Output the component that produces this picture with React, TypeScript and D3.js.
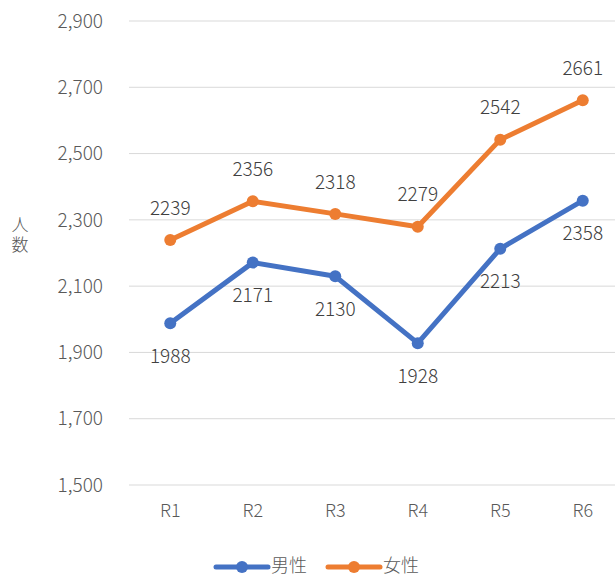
import React, { useEffect, useRef } from 'react';
import * as d3 from 'd3';

const categories = ['R1', 'R2', 'R3', 'R4', 'R5', 'R6'];
const male = [1988, 2171, 2130, 1928, 2213, 2358];
const female = [2239, 2356, 2318, 2279, 2542, 2661];
const yTicks = [1500, 1700, 1900, 2100, 2300, 2500, 2700, 2900];

const FONT = '"Noto Sans CJK JP", "Noto Sans", sans-serif';

const App = () => {
  const svgRef = useRef<SVGSVGElement>(null);

  useEffect(() => {
    const width = 615;
    const height = 576;
    const svg = d3.select(svgRef.current);
    svg.selectAll('*').remove();
    svg.attr('width', width).attr('height', height);

    const x = d3.scaleBand<string>().domain(categories).range([129, 624]);
    const y = d3.scaleLinear().domain([1500, 2900]).range([485, 21]);
    const cx = (d: string) => (x(d) as number) + x.bandwidth() / 2;

    // gridlines
    svg.append('g')
      .selectAll('line')
      .data(yTicks)
      .enter().append('line')
      .attr('x1', 129)
      .attr('x2', width)
      .attr('y1', d => y(d))
      .attr('y2', d => y(d))
      .attr('stroke', '#d9d9d9')
      .attr('stroke-width', 1);

    // y tick labels
    svg.append('g')
      .selectAll('text')
      .data(yTicks)
      .enter().append('text')
      .attr('x', 103)
      .attr('y', d => y(d))
      .attr('dy', '0.35em')
      .attr('text-anchor', 'end')
      .style('font-family', FONT)
      .style('font-size', '19px')
      .style('font-weight', 300)
      .attr('fill', '#595959')
      .text(d => d3.format(',')(d));

    // x labels
    svg.append('g')
      .selectAll('text')
      .data(categories)
      .enter().append('text')
      .attr('x', d => cx(d))
      .attr('y', 511)
      .attr('dy', '0.35em')
      .attr('text-anchor', 'middle')
      .style('font-family', FONT)
      .style('font-size', '18px')
      .style('font-weight', 300)
      .attr('fill', '#595959')
      .text(d => d);

    // y axis title, stacked vertically
    svg.append('text')
      .attr('x', 20)
      .attr('y', 236)
      .attr('text-anchor', 'middle')
      .style('writing-mode', 'vertical-rl')
      .style('letter-spacing', '3px')
      .style('font-family', FONT)
      .style('font-size', '17px')
      .style('font-weight', 300)
      .attr('fill', '#595959')
      .text('人数');

    const series = [
      { name: '男性', values: male, color: '#4472C4', labelDy: 33 },
      { name: '女性', values: female, color: '#ED7D31', labelDy: -32 },
    ];

    const line = d3.line<number>()
      .x((_, i) => cx(categories[i]))
      .y(d => y(d));

    series.forEach(s => {
      svg.append('path')
        .datum(s.values)
        .attr('d', line)
        .attr('fill', 'none')
        .attr('stroke', s.color)
        .attr('stroke-width', 5)
        .attr('stroke-linejoin', 'round')
        .attr('stroke-linecap', 'round');

      svg.append('g')
        .selectAll('circle')
        .data(s.values)
        .enter().append('circle')
        .attr('cx', (_, i) => cx(categories[i]))
        .attr('cy', d => y(d))
        .attr('r', 6)
        .attr('fill', s.color);

      svg.append('g')
        .selectAll('text')
        .data(s.values)
        .enter().append('text')
        .attr('x', (_, i) => cx(categories[i]))
        .attr('y', d => y(d) + s.labelDy)
        .attr('dy', '0.35em')
        .attr('text-anchor', 'middle')
        .style('font-family', FONT)
        .style('font-size', '19px')
        .style('font-weight', 300)
        .attr('fill', '#404040')
        .text(d => d);
    });

    // legend
    const legend = svg.append('g');
    const legendItems = [
      { name: '男性', color: '#4472C4', x0: 216 },
      { name: '女性', color: '#ED7D31', x0: 328 },
    ];
    legendItems.forEach(item => {
      legend.append('line')
        .attr('x1', item.x0)
        .attr('x2', item.x0 + 52)
        .attr('y1', 567)
        .attr('y2', 567)
        .attr('stroke', item.color)
        .attr('stroke-width', 5)
        .attr('stroke-linecap', 'round');
      legend.append('circle')
        .attr('cx', item.x0 + 26)
        .attr('cy', 567)
        .attr('r', 6)
        .attr('fill', item.color);
      legend.append('text')
        .attr('x', item.x0 + 55)
        .attr('y', 566)
        .attr('dy', '0.35em')
        .style('font-family', FONT)
        .style('font-size', '18px')
        .style('font-weight', 300)
        .attr('fill', '#595959')
        .text(item.name);
    });
  }, []);

  return (
    <div style={{ position: 'absolute', left: 0, top: 0, width: 615, height: 576, background: '#fff' }}>
      <svg ref={svgRef} style={{ display: 'block' }} />
    </div>
  );
};

export default App;
